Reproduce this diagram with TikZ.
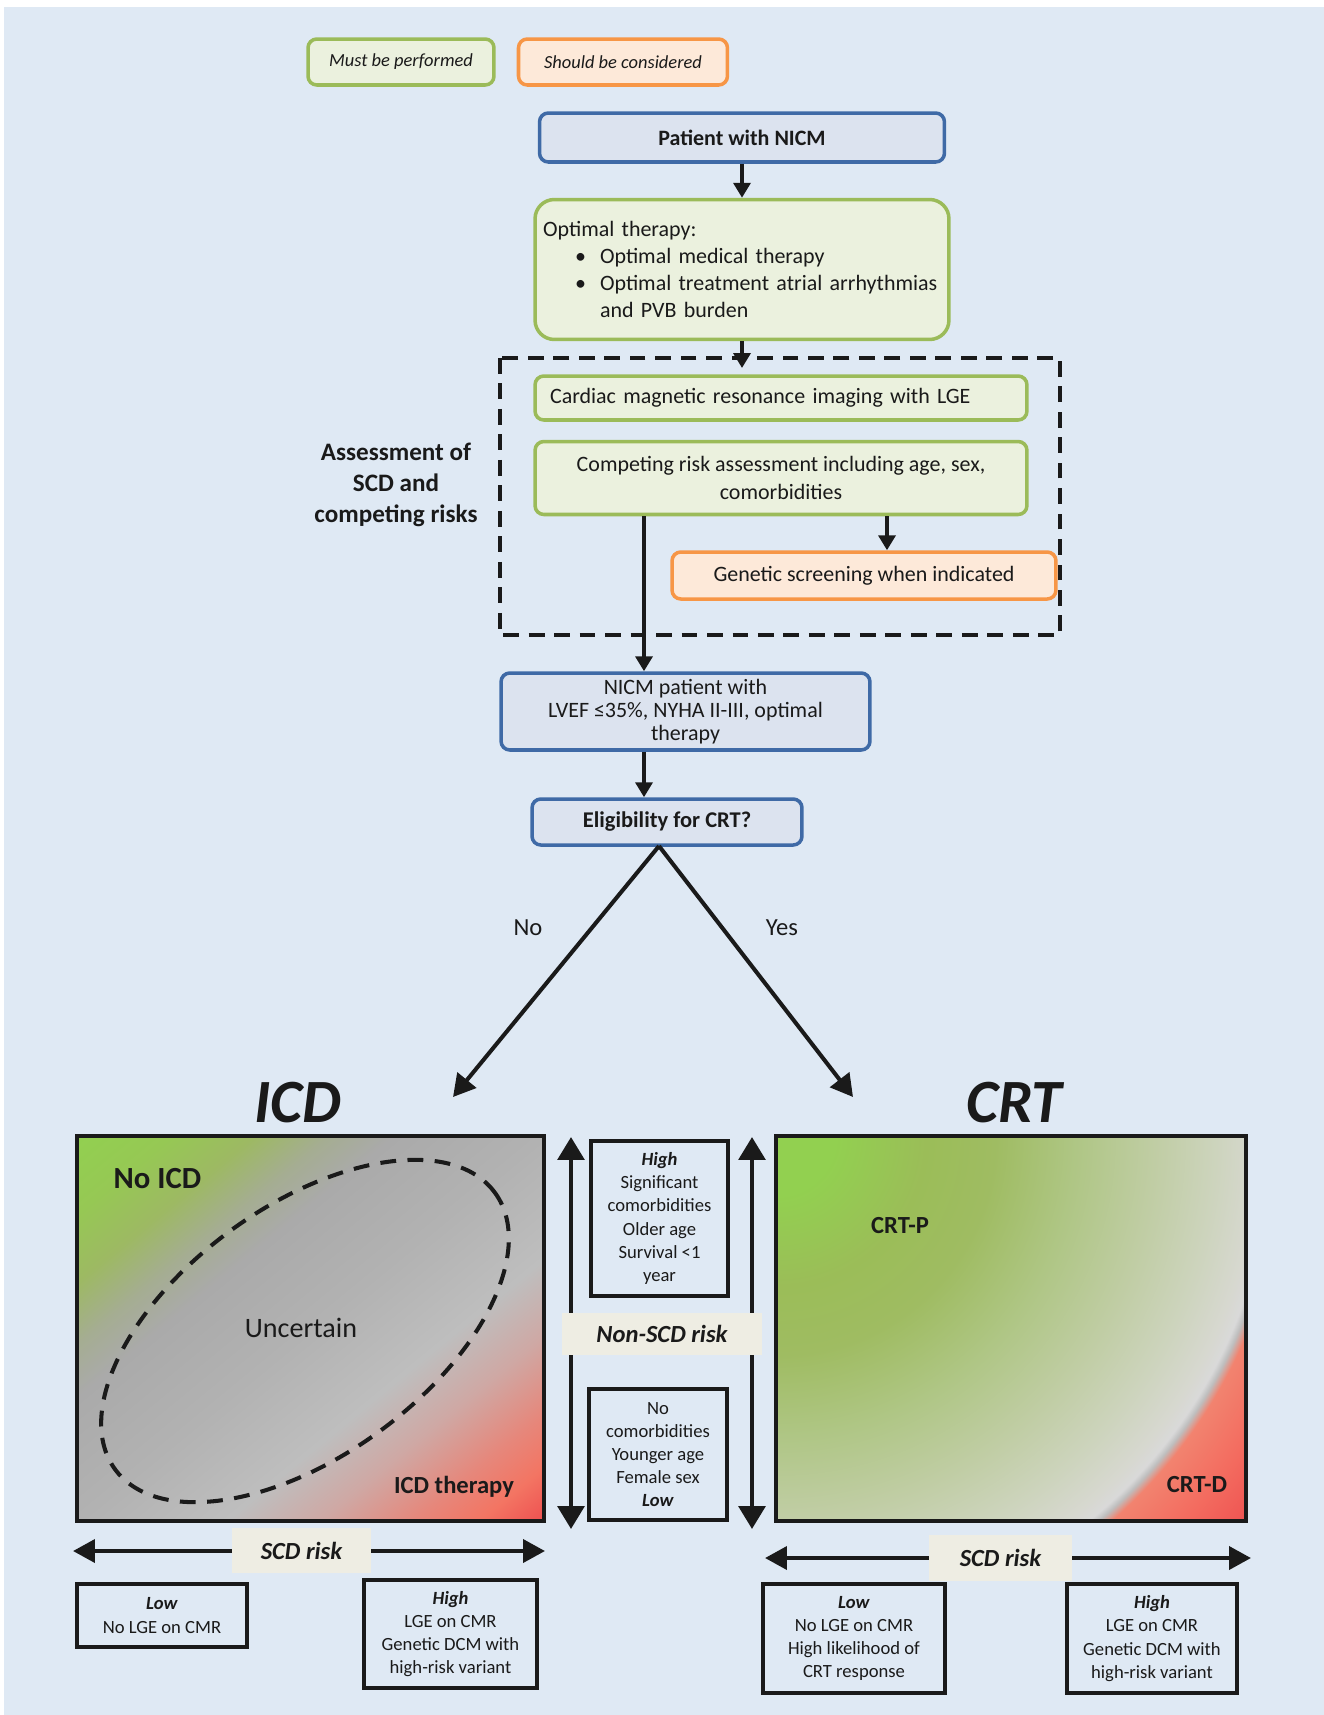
\documentclass[tikz,border=0pt]{standalone}
\usepackage{fontspec}
\setmainfont{Carlito}
\usetikzlibrary{arrows.meta,positioning}

\definecolor{bgblue}{HTML}{DFE9F4}
\definecolor{musfill}{HTML}{EBF1DE}
\definecolor{musline}{HTML}{9BBB59}
\definecolor{shdfill}{HTML}{FDE9D9}
\definecolor{shdline}{HTML}{F79646}
\definecolor{patfill}{HTML}{DCE3EF}
\definecolor{patline}{HTML}{3F6AA6}
\definecolor{tagfill}{HTML}{EEEDE3}
\definecolor{ink}{HTML}{1A1A1A}

\definecolor{icdA}{HTML}{92D050}
\definecolor{icdB}{HTML}{96C854}
\definecolor{icdC}{HTML}{9DB963}
\definecolor{icdD}{HTML}{A5AD92}
\definecolor{icdE}{HTML}{AAAAAA}
\definecolor{icdF}{HTML}{B2B2B2}
\definecolor{icdG}{HTML}{BEBEBE}
\definecolor{icdH}{HTML}{CFA8A4}
\definecolor{icdI}{HTML}{E6877B}
\definecolor{icdJ}{HTML}{F37563}
\definecolor{icdK}{HTML}{EE5050}

\definecolor{crtA}{HTML}{92D050}
\definecolor{crtB}{HTML}{9BBD58}
\definecolor{crtC}{HTML}{9FBC62}
\definecolor{crtD}{HTML}{AFC685}
\definecolor{crtE}{HTML}{C0CDA4}
\definecolor{crtF}{HTML}{CDD4BD}
\definecolor{crtG}{HTML}{D7D8D0}
\definecolor{crtH}{HTML}{D9D9D9}
\definecolor{crtI}{HTML}{BEBEBE}
\definecolor{crtJ}{HTML}{F2836F}
\definecolor{crtK}{HTML}{F36B5F}
\definecolor{crtL}{HTML}{EE5050}

\pgfdeclarehorizontalshading{icdshade}{100bp}{color(0bp)=(icdA); color(25bp)=(icdA); color(30bp)=(icdB); color(34.5bp)=(icdC); color(38.5bp)=(icdD); color(42bp)=(icdE); color(50bp)=(icdF); color(58bp)=(icdG); color(63bp)=(icdH); color(68bp)=(icdI); color(71.5bp)=(icdJ); color(75bp)=(icdK); color(100bp)=(icdK)}

\pgfdeclareradialshading{crtshade}{\pgfpoint{0bp}{0bp}}{color(0bp)=(crtA); color(2.4bp)=(crtA); color(6.1bp)=(crtB); color(8.9bp)=(crtC); color(12.2bp)=(crtD); color(15.4bp)=(crtE); color(17.9bp)=(crtF); color(19.6bp)=(crtG); color(20.15bp)=(crtH); color(20.4bp)=(crtI); color(20.75bp)=(crtJ); color(22.8bp)=(crtK); color(25bp)=(crtL); color(50bp)=(crtL)}

\tikzset{
	flowtxt/.style={font=\fontsize{12.5}{15.5}\selectfont},
	infotxt/.style={font=\fontsize{10.6}{13.2}\selectfont},
	bluebox/.style={draw=patline, fill=patfill, line width=2pt, rounded corners=5pt, inner sep=0pt, align=center, flowtxt},
	greenbox/.style={draw=musline, fill=musfill, line width=2pt, rounded corners=5pt, inner sep=0pt, align=center, flowtxt},
	orangebox/.style={draw=shdline, fill=shdfill, line width=2pt, rounded corners=5pt, inner sep=0pt, align=center, flowtxt},
	infobox/.style={draw=ink, line width=2.2pt, inner sep=0pt, align=center, infotxt},
	tagbox/.style={fill=tagfill, inner sep=0pt, font=\fontsize{14}{16}\selectfont\bfseries\itshape},
	plotbox/.style={draw=ink, line width=2.2pt, inner sep=0pt, minimum height=7.7cm},
	dashframe/.style={draw=ink, line width=1.9pt, dash pattern=on 9pt off 5.5pt},
	ovaldash/.style={draw=ink, line width=2.3pt, dash pattern=on 9pt off 6.5pt},
	flowarr/.style={draw=ink, line width=2.3pt, -{Triangle[length=8.5pt,width=9.6pt]}},
	diagarr/.style={draw=ink, line width=2.3pt, -{Triangle[length=12.5pt,width=13.6pt]}},
	riskarr/.style={draw=ink, line width=2.4pt, {Triangle[length=12.5pt,width=13pt]}-{Triangle[length=12.5pt,width=13pt]}},
	nonarr/.style={draw=ink, line width=2.6pt, {Triangle[length=13pt,width=15pt]}-{Triangle[length=13pt,width=15pt]}}
}

\begin{document}
\begin{tikzpicture}[x=0.02cm, y=-0.02cm, every node/.style={text=ink}]
	\useasboundingbox (0,0) rectangle (1324,1715);
	\fill[bgblue] (4,7) rectangle (1324,1715);
	
	\node[greenbox, minimum width=3.72cm, minimum height=0.92cm, font=\fontsize{10.5}{12}\selectfont\itshape] (lmust) at (401,62) {Must be performed};
	\node[orangebox, right=0.42cm of lmust, minimum width=4.18cm, minimum height=0.92cm, font=\fontsize{10.5}{12}\selectfont\itshape] (lshould) {Should be considered};
	
	\node[bluebox, minimum width=8.1cm, minimum height=0.98cm, font=\fontsize{12.5}{15.5}\selectfont\bfseries] (pat) at (742,137.5) {Patient with NICM};
	\node[greenbox, below=0.68cm of pat, minimum height=2.8cm, text width=7.96cm, inner xsep=0.16cm, align=left, rounded corners=11pt] (opt) {Optimal therapy:\\
		\hspace*{0.64cm}\makebox[0.5cm][l]{\textbullet}Optimal medical therapy\\
		\hspace*{0.64cm}\makebox[0.5cm][l]{\textbullet}Optimal treatment atrial arrhythmias\\
		\hspace*{1.14cm}and PVB burden\\[-3pt]};
	\coordinate (optin) at (742,368);
	
	\draw[dashframe] (500,358) rectangle (1060,635);
	\node[greenbox, minimum width=9.84cm, minimum height=0.88cm, text width=9.24cm, inner xsep=0.3cm, align=left] (cmr) at (781,398) {Cardiac magnetic resonance imaging with LGE};
	\node[greenbox, below=0.36cm of cmr, minimum width=9.84cm, minimum height=1.46cm] (comp) {Competing risk assessment including age, sex,\\comorbidities};
	\node[orangebox, minimum width=7.68cm, minimum height=0.94cm] (gen) at (864,575.5) {Genetic screening when indicated};
	\node[align=center, font=\fontsize{14.3}{17.8}\selectfont\bfseries] (asr) at (396,485) {Assessment of\\SCD and\\competing risks};
	
	\node[bluebox, minimum width=7.38cm, minimum height=1.54cm, font=\fontsize{12.5}{13}\selectfont] (nicm) at (685.5,711.5) {NICM patient with\\LVEF ≤35\%, NYHA II-III, optimal\\therapy};
	\node[bluebox, minimum width=5.4cm, minimum height=0.92cm, font=\fontsize{12.8}{15.5}\selectfont\bfseries] (elig) at (667,822) {Eligibility for CRT?};
	
	\coordinate (gx) at (887,0);
	\coordinate (nx) at (644,0);
	\draw[flowarr] (pat) -- (opt);
	\draw[flowarr] (opt.south) -- (optin);
	\draw[flowarr] (comp.south -| gx) -- (gen.north -| gx);
	\draw[flowarr] (comp.south -| nx) -- (nicm.north -| nx);
	\draw[flowarr] (nicm.south -| nx) -- (elig.north -| nx);
	
	\coordinate (esp) at (659,846);
	\coordinate (icdin) at (453,1097);
	\coordinate (crtin) at (853,1097);
	\draw[diagarr] (esp) -- (icdin);
	\draw[diagarr] (esp) -- (crtin);
	\node[font=\fontsize{14}{16}\selectfont] (lno) at (528,928) {No};
	\node[font=\fontsize{14}{16}\selectfont] (lyes) at (782,928) {Yes};
	
	\node[anchor=base, font=\fontsize{35}{40}\selectfont\bfseries\itshape] (icdt) at (298,1122) {ICD};
	\node[anchor=base, font=\fontsize{35}{40}\selectfont\bfseries\itshape] (crtt) at (1014,1122) {CRT};
	
	\begin{scope}
		\clip (77,1136) rectangle (544,1521);
		\shade[shading=icdshade, transform canvas={rotate around={-50.5:(310.5,1328.5)}}] (13.5,1018.5) rectangle (607.5,1638.5);
	\end{scope}
	\node[plotbox, minimum width=9.34cm] (icd) at (310.5,1328.5) {};
	\draw[ovaldash, rotate around={36:(305,1331)}] (305,1331) ellipse [x radius=4.7cm, y radius=2.5cm];
	\node[font=\fontsize{17.5}{20}\selectfont\bfseries] (noicd) at (157.5,1179) {No ICD};
	\node[font=\fontsize{16}{19}\selectfont] (unc) at (301,1328) {Uncertain};
	\node[font=\fontsize{14}{17}\selectfont\bfseries] (icdth) at (454,1487) {ICD therapy};
	
	\node[plotbox, minimum width=9.4cm, path picture={\shade[shading=crtshade] (path picture bounding box.north west) circle [radius=12.3cm];}] (crt) at (1011,1328.5) {};
	\node[font=\fontsize{14}{17}\selectfont\bfseries] (crtp) at (900,1225) {CRT-P};
	\node[font=\fontsize{14}{17}\selectfont\bfseries] (crtd) at (1197,1484) {CRT-D};
	
	\coordinate (lt) at (571,1137);
	\coordinate (lb) at (571,1529);
	\coordinate (rt) at (752,1137);
	\coordinate (rb) at (752,1529);
	\draw[nonarr] (lt) -- (lb);
	\draw[nonarr] (rt) -- (rb);
	\node[infobox, minimum width=2.74cm, minimum height=3.1cm] (hinon) at (659.5,1218.5) {\textbf{\textit{High}}\\Significant\\comorbidities\\Older age\\Survival <1\\year};
	\node[infobox, minimum width=2.76cm, minimum height=2.62cm] (lonon) at (658,1454.5) {No\\comorbidities\\Younger age\\Female sex\\\textbf{\textit{Low}}};
	\node[tagbox, minimum width=4.02cm, minimum height=0.84cm] (nonscd) at (662,1334) {Non-SCD risk};
	
	\coordinate (il) at (73,1551);
	\coordinate (ir) at (545,1551);
	\draw[riskarr] (il) -- (ir);
	\node[tagbox, minimum width=2.78cm, minimum height=0.9cm] (iscd) at (301.5,1550.5) {SCD risk};
	\node[infobox, minimum width=3.4cm, minimum height=1.26cm] (ilow) at (162,1615.5) {\textbf{\textit{Low}}\\No LGE on CMR};
	\node[infobox, minimum width=3.46cm, minimum height=2.16cm] (ihigh) at (450.5,1634) {\textbf{\textit{High}}\\LGE on CMR\\Genetic DCM with\\high-risk variant};
	
	\coordinate (cl) at (765,1558);
	\coordinate (cr) at (1251,1558);
	\draw[riskarr] (cl) -- (cr);
	\node[tagbox, minimum width=2.86cm, minimum height=0.92cm] (cscd) at (1000.5,1558) {SCD risk};
	\node[infobox, minimum width=3.64cm, minimum height=2.18cm] (clow) at (854,1638.5) {\textbf{\textit{Low}}\\No LGE on CMR\\High likelihood of\\CRT response};
	\node[infobox, minimum width=3.4cm, minimum height=2.18cm] (chigh) at (1152,1638.5) {\textbf{\textit{High}}\\LGE on CMR\\Genetic DCM with\\high-risk variant};
\end{tikzpicture}
\end{document}
